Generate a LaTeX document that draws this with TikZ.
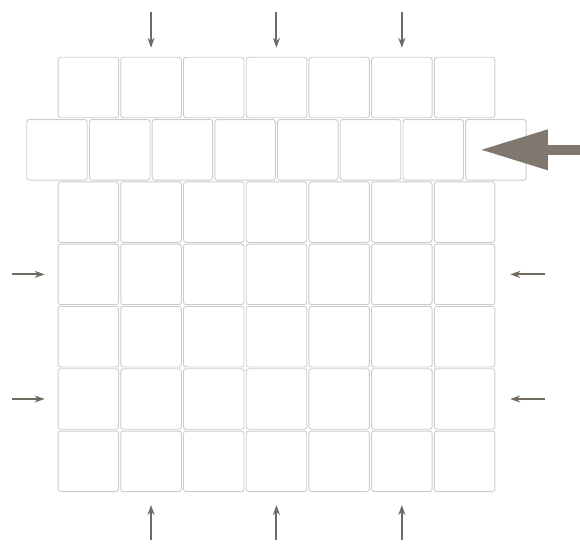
\documentclass[tikz,border=0pt]{standalone}
\usetikzlibrary{arrows.meta}
\definecolor{pushgray}{RGB}{112,106,98}
\definecolor{shovegray}{RGB}{128,120,110}
\begin{document}
\begin{tikzpicture}[x=1pt,y=-1pt,
  cell/.style={draw=gray!40, line width=0.9, rounded corners=2.5,
    minimum size=60.5pt, inner sep=0pt},
  pusher/.style={draw=pushgray, line width=2, -{Stealth[length=10, width=7]}},
  shove/.style={draw=shovegray, line width=10, -{Triangle[length=68, width=38]}}]
  \useasboundingbox (0,0) rectangle (580,543);
  % 7x7 block, second row pushed half a cell to the left
  \foreach \r in {0,2,3,4,5,6}
    \foreach \c in {0,...,6}
      \node[cell] (c\r-\c) at (88.35+62.7*\c, 87.5+62.3*\r) {};
  \foreach \c in {0,...,7}
    \node[cell] (c1-\c) at (57.0+62.7*\c, 149.8) {};
  % small arrows on columns 2,4,6 and rows 4,6
  \foreach \c in {1,3,5} {
    \path (c0-\c.north) ++(0,-45) coordinate (top\c) ++(0,36) coordinate (topend\c);
    \draw[pusher] (top\c) -- (topend\c);
    \path (c6-\c.south) ++(0,48) coordinate (bot\c) ++(0,-35) coordinate (botend\c);
    \draw[pusher] (bot\c) -- (botend\c);
  }
  \foreach \r in {3,5} {
    \path (c\r-0.west) ++(-46,0) coordinate (lft\r) ++(33,0) coordinate (lftend\r);
    \draw[pusher] (lft\r) -- (lftend\r);
    \path (c\r-6.east) ++(50,0) coordinate (rgt\r) ++(-35,0) coordinate (rgtend\r);
    \draw[pusher] (rgt\r) -- (rgtend\r);
  }
  % the big push into row 2
  \path (c1-7.center) ++(-16,0) coordinate (shovetip);
  \coordinate (shovetail) at (582,149.8);
  \draw[shove] (shovetail) -- (shovetip);
\end{tikzpicture}
\end{document}
